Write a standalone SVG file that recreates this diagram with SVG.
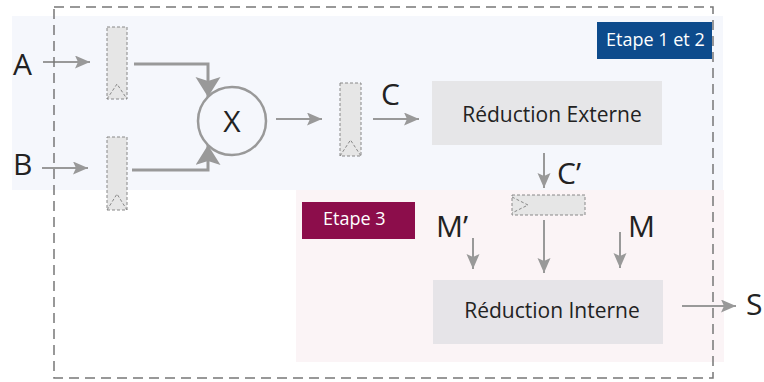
<svg xmlns="http://www.w3.org/2000/svg" width="764" height="382" viewBox="0 0 764 382">
<defs>
<marker id="ah" markerUnits="userSpaceOnUse" markerWidth="16" markerHeight="14" refX="15" refY="6.5" orient="auto">
<path d="M0,0 L15,6.5 L0,13 L3,6.5 z" fill="#999"/>
</marker>
<marker id="ahb" markerUnits="userSpaceOnUse" markerWidth="22" markerHeight="26" refX="20" refY="12.5" orient="auto">
<path d="M0,0 L20,12.5 L0,25 L4,12.5 z" fill="#999"/>
</marker>
</defs>
<style>
.t{font-family:"Open Sans","Noto Sans","Liberation Sans",sans-serif;fill:#222}
.big{font-size:30px}
.box{font-size:21px}
.tag{font-family:"Open Sans","Noto Sans","Liberation Sans",sans-serif;font-size:18px;fill:#fff}
.reg{fill:#e6e6e6;stroke:#888;stroke-width:1;stroke-dasharray:3,2}
.tri{fill:none;stroke:#888;stroke-width:1;stroke-dasharray:3,2}
.ln{fill:none;stroke:#999;stroke-width:2;marker-end:url(#ah)}
.thk{fill:none;stroke:#999;stroke-width:3;marker-end:url(#ahb)}
</style>
<rect id="stage12" x="12" y="16" width="711" height="174" fill="#f5f7fc"/>
<rect id="stage3" x="296" y="190" width="428" height="172" fill="#fbf4f6"/>
<g id="label-etape12">
<rect x="597" y="22" width="115" height="37" fill="#0d4b8c"/>
<text class="tag" x="606" y="46">Etape 1 et 2</text>
</g>
<g id="label-etape3">
<rect x="302" y="202" width="113" height="37" fill="#8c0d4b"/>
<text class="tag" x="323" y="225">Etape 3</text>
</g>
<g id="inputA"><text class="t big" x="13" y="75">A</text></g>
<g id="inputB"><text class="t big" x="13" y="175">B</text></g>
<g id="regA">
<rect class="reg" x="107" y="27" width="20" height="72"/>
<path class="tri" d="M107,99 L117,84 L127,99"/>
</g>
<g id="regB">
<rect class="reg" x="107" y="137" width="20" height="73"/>
<path class="tri" d="M107,210 L117,194 L127,210"/>
</g>
<g id="mult">
<circle cx="232" cy="121" r="34" fill="none" stroke="#999" stroke-width="2.5"/>
<text class="t big" x="232" y="132" text-anchor="middle">X</text>
</g>
<g id="regC">
<rect class="reg" x="340" y="83" width="21" height="73"/>
<path class="tri" d="M340,156 L350.5,140 L361,156"/>
</g>
<g id="labelC"><text class="t big" x="381" y="105">C</text></g>
<g id="redExt">
<rect x="432" y="81" width="230" height="64" fill="#e6e6e8"/>
<text class="t box" x="552" y="122" text-anchor="middle">Réduction Externe</text>
</g>
<g id="labelCp"><text class="t big" x="557" y="184">C’</text></g>
<g id="regCp">
<rect class="reg" x="512" y="195" width="73" height="20"/>
<path class="tri" d="M512,197 L528,205 L512,213"/>
</g>
<g id="labelMp"><text class="t big" x="436" y="237">M’</text></g>
<g id="labelM"><text class="t big" x="628" y="237">M</text></g>
<g id="redInt">
<rect x="433" y="280" width="230" height="64" fill="#e6e4e8"/>
<text class="t box" x="552" y="318" text-anchor="middle">Réduction Interne</text>
</g>
<g id="outS"><text class="t big" x="746" y="315">S</text></g>
<g id="connectors">
<line class="ln" x1="43" y1="62" x2="90" y2="62"/>
<line class="ln" x1="42" y1="168" x2="88" y2="168"/>
<path class="thk" d="M134,64 H208 V97"/>
<path class="thk" d="M132,170 H208 V145"/>
<line class="ln" x1="276" y1="119" x2="322" y2="119"/>
<line class="ln" x1="373" y1="119" x2="419" y2="119"/>
<line class="ln" x1="544" y1="153" x2="544" y2="188"/>
<line class="ln" x1="544" y1="220" x2="544" y2="273"/>
<line class="ln" x1="473" y1="238" x2="473" y2="269"/>
<line class="ln" x1="620" y1="232" x2="620" y2="268"/>
<line class="ln" x1="682" y1="306" x2="736" y2="306"/>
</g>
<rect id="border" x="54" y="7" width="659" height="371" fill="none" stroke="#777" stroke-width="1.5" stroke-dasharray="10,6"/>
</svg>
